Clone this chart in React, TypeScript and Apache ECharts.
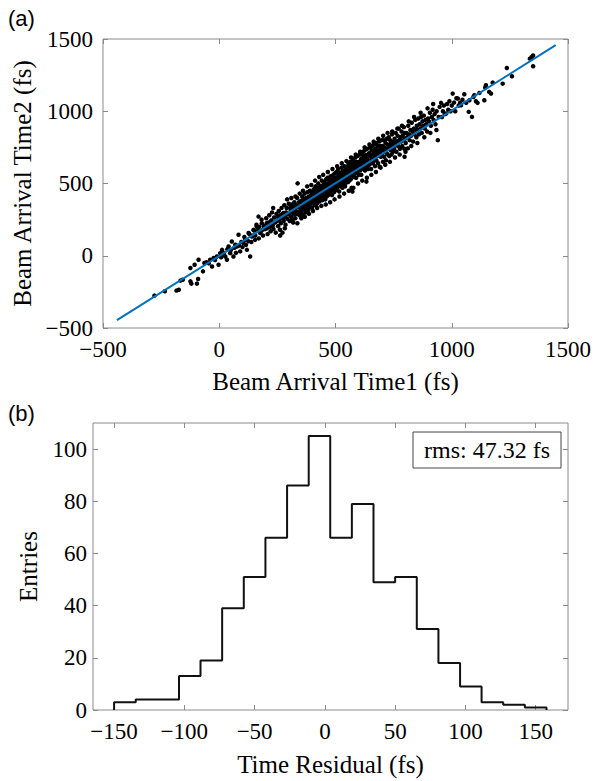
import React, { useEffect, useRef } from "react";
import * as echarts from "echarts";

// Panel (a): scatter of beam arrival times (fs)
const scatterPoints: [number, number][] = [
  [-279, -276], [-234, -246], [-184, -241], [-174, -235], [-167, -172], [-157, -166],
  [-124, -177], [-120, -193], [-96, -193], [-91, -161], [-124, -85], [-106, -62],
  [-89, -28], [-70, -108], [-64, -50], [-39, -28], [-31, -74], [-24, -16], [-10, -5],
  [-3, -62], [4, 18], [12, 41], [26, -5], [33, -28], [40, 64], [47, 18], [61, -5],
  [54, 99], [69, 76], [83, 145], [76, 64], [90, 30], [104, 88], [111, 110], [119, 41],
  [133, -5], [126, 157], [140, 133], [147, 179], [154, 110], [161, 202], [169, 271],
  [183, 225], [176, 157], [186, 179], [204, 225],
  [-55, -45], [-45, -52], [-18, -30], [8, -10], [15, 25], [20, 10], [35, 45], [50, 40],
  [65, 55], [72, 20], [85, 70], [95, 95], [100, 60], [108, 130], [115, 75], [125, 100],
  [130, 150], [138, 95], [145, 140], [150, 175],
  [155, 140], [160, 215], [165, 180], [170, 120], [172, 200], [178, 165], [182, 250],
  [188, 140], [192, 205], [197, 185],
  [202, 260], [205, 190], [208, 150], [212, 230], [215, 280], [218, 200], [221, 170],
  [224, 245], [227, 300], [230, 210], [233, 185], [236, 265], [240, 230], [243, 160],
  [246, 290], [249, 240],
  [251, 270], [253, 205], [256, 310], [258, 250], [261, 180], [263, 280], [265, 225],
  [268, 330], [270, 260], [272, 160], [275, 295], [277, 240], [280, 350], [282, 270],
  [285, 215], [287, 300], [290, 330], [293, 255], [296, 285], [299, 360],
  [301, 290], [303, 240], [305, 330], [307, 310], [309, 270], [311, 355], [313, 300],
  [315, 250], [317, 340], [319, 320], [321, 285], [323, 370], [325, 330], [327, 260],
  [329, 310], [331, 350], [333, 290], [335, 400], [337, 501], [339, 335], [341, 300],
  [343, 370], [345, 280], [347, 345], [349, 315],
  [351, 380], [352, 330], [354, 300], [356, 360], [357, 410], [359, 340], [361, 280],
  [362, 390], [364, 355], [366, 320], [367, 430], [369, 370], [371, 345], [372, 300],
  [374, 400], [376, 365], [377, 330], [379, 440], [381, 385], [382, 350], [383, 317],
  [385, 410], [387, 375], [388, 340], [390, 450], [392, 395], [393, 360], [395, 420],
  [397, 380], [399, 330],
  [401, 400], [402, 440], [404, 370], [405, 420], [407, 460], [408, 390], [410, 350],
  [411, 430], [413, 405], [414, 480], [416, 380], [417, 445], [419, 410], [420, 360],
  [422, 470], [423, 425], [425, 395], [426, 500], [428, 440], [429, 410], [431, 375],
  [432, 455], [434, 425], [435, 480], [437, 400], [438, 445], [440, 420], [441, 520],
  [443, 465], [444, 385], [446, 440], [447, 490], [448, 415], [449, 460], [450, 400],
  [451, 470], [452, 430], [453, 510], [455, 450], [456, 390], [457, 480], [459, 440],
  [460, 530], [461, 465], [462, 410], [464, 495], [465, 455], [466, 540], [468, 475],
  [469, 420], [470, 500], [471, 460], [473, 520], [474, 480], [475, 430], [476, 505],
  [478, 470], [479, 550], [480, 495], [481, 445], [483, 515], [484, 475], [485, 420],
  [486, 535], [488, 490], [489, 460], [490, 560], [491, 510], [493, 480], [494, 440],
  [495, 525], [496, 495], [497, 570], [498, 465], [499, 515],
  [500, 490], [501, 540], [503, 455], [504, 520], [505, 580], [506, 500], [508, 470],
  [509, 545], [510, 515], [511, 600], [513, 490], [514, 560], [515, 525], [516, 445],
  [518, 550], [519, 505], [520, 575], [521, 530], [523, 480], [524, 565], [525, 540],
  [526, 610], [528, 510], [529, 555], [530, 470], [531, 590], [533, 530], [534, 495],
  [535, 570], [536, 545], [538, 620], [539, 515], [540, 560], [541, 480], [543, 585],
  [544, 540], [545, 505], [546, 600], [548, 560], [549, 530],
  [550, 590], [551, 545], [553, 620], [554, 510], [555, 575], [556, 640], [558, 555],
  [559, 600], [560, 520], [561, 580], [563, 650], [564, 560], [565, 610], [566, 530],
  [568, 590], [569, 470], [570, 630], [571, 575], [573, 444], [574, 600], [575, 555],
  [576, 660], [578, 620], [579, 580], [580, 545], [581, 640], [583, 605], [584, 570],
  [585, 680], [586, 620], [588, 590], [589, 540], [590, 650], [591, 615], [593, 580],
  [594, 690], [596, 630], [598, 600],
  [600, 560], [601, 650], [603, 620], [604, 700], [605, 590], [607, 640], [608, 610],
  [610, 670], [611, 560], [613, 630], [614, 700], [616, 655], [617, 600], [619, 720],
  [620, 640], [621, 680], [623, 610], [624, 660], [626, 730], [627, 590], [629, 650],
  [630, 695], [632, 620], [633, 513], [634, 670], [636, 740], [637, 640], [639, 700],
  [640, 600], [642, 660], [644, 710], [645, 630], [647, 690], [649, 750],
  [650, 640], [652, 700], [653, 600], [655, 730], [656, 670], [658, 760], [660, 640],
  [661, 700], [663, 650], [665, 720], [666, 770], [668, 680], [670, 620], [671, 740],
  [673, 700], [675, 780], [676, 660], [678, 720], [680, 690], [681, 760], [683, 640],
  [685, 730], [686, 700], [688, 790], [690, 616], [691, 720], [693, 760], [695, 685],
  [697, 740], [699, 800],
  [700, 700], [702, 760], [704, 650], [706, 730], [708, 800], [710, 685], [711, 750],
  [713, 720], [715, 780], [717, 660], [719, 740], [721, 810], [723, 705], [725, 770],
  [727, 740], [729, 820], [731, 690], [733, 760], [735, 800], [737, 730], [739, 780],
  [741, 700], [743, 840], [745, 760], [747, 720], [749, 790],
  [752, 740], [754, 810], [757, 770], [759, 850], [762, 720], [764, 790], [767, 830],
  [769, 760], [772, 880], [774, 800], [777, 740], [779, 820], [782, 790], [784, 860],
  [787, 760], [789, 830], [792, 800], [794, 890], [796, 740], [797, 685], [798, 850],
  [799, 810],
  [802, 780], [805, 850], [808, 820], [811, 743], [813, 900], [816, 840], [819, 800],
  [822, 870], [825, 830], [828, 920], [831, 860], [834, 790], [837, 880], [840, 840],
  [843, 940], [846, 870], [848, 820], [850, 900],
  [853, 870], [856, 950], [859, 840], [862, 910], [865, 880], [868, 960], [871, 850],
  [874, 930], [877, 900], [880, 970], [884, 880], [887, 940], [890, 910], [894, 860],
  [898, 950],
  [902, 930], [906, 990], [910, 900], [914, 960], [918, 1010], [922, 940], [926, 980],
  [930, 910], [935, 1000], [940, 800], [944, 960], [948, 1030],
  [954, 1058], [958, 960], [962, 1000], [966, 1040], [970, 980], [976, 984], [980, 1050],
  [985, 1010], [990, 1070], [995, 1000], [1000, 1040], [1004, 1122], [1010, 1060],
  [1015, 1000], [1020, 1090], [1026, 1088], [1030, 1040], [1036, 1060], [1040, 1042],
  [1046, 1080],
  [1054, 1118], [1062, 1058], [1073, 996], [1076, 1076], [1087, 961], [1093, 1099],
  [1097, 1111], [1104, 1069], [1111, 1058], [1119, 1127], [1140, 1076], [1144, 1164],
  [1147, 1180], [1161, 1134], [1169, 1122], [1176, 1198], [1219, 1191], [1237, 1299],
  [1259, 1242], [1336, 1364], [1344, 1375], [1350, 1386], [1350, 1311],
  // wider-spread points along the band
  [310, 400], [318, 230], [328, 410], [336, 225], [346, 430], [353, 260], [360, 450],
  [368, 270], [378, 480], [386, 290], [396, 490], [403, 310], [412, 520], [421, 330],
  [430, 545], [439, 345], [447, 560], [458, 355], [467, 580], [477, 370], [487, 600],
  [496, 390], [507, 620], [517, 410], [527, 640], [537, 430], [547, 655], [557, 450],
  [567, 680], [577, 470], [587, 700], [597, 500], [606, 720], [615, 520], [625, 750],
  [635, 540], [646, 770], [654, 560], [664, 790], [674, 580], [684, 810], [694, 610],
  [705, 830], [714, 630], [724, 850], [734, 650], [744, 860], [756, 680], [766, 880],
  [776, 700], [786, 900], [801, 720], [815, 930], [826, 760], [838, 960], [852, 780],
  [866, 990], [882, 820], [896, 1020], [908, 850], [920, 1050], [934, 870],
  [232, 330], [262, 140], [292, 390], [282, 190],
];

// Linear fit line endpoints
const fitX = [-440, 1447];
const fitY = [-445, 1457];

// Axis ticks, panel (a)
const aTicks = [-500, 0, 500, 1000, 1500];

// Panel (b): histogram of time residual (fs)
const binEdges = [
  -150, -134.6, -119.2, -103.8, -88.5, -73.1, -57.7, -42.3, -26.9, -11.5, 3.8,
  19.2, 34.6, 50.0, 65.4, 80.8, 96.2, 111.5, 126.9, 142.3, 157.7,
];
const binCounts = [3, 4, 4, 13, 19, 39, 51, 66, 86, 105, 66, 79, 49, 51, 31, 18, 9, 3, 2, 1];
const bXTicks = [-150, -100, -50, 0, 50, 100, 150];
const bYTicks = [0, 20, 40, 60, 80, 100];
const rmsText = "rms: 47.32 fs";

const FONT = "'Liberation Serif', 'Times New Roman', serif";
const AXIS_GRAY = "#8a8a8a";

export default function App() {
  const ref = useRef<HTMLDivElement>(null);

  useEffect(() => {
    if (!ref.current) return;
    const chart = echarts.init(ref.current, undefined, { renderer: "svg" });

    const stepData: [number, number][] = [[binEdges[0], 0]];
    binCounts.forEach((c, i) => {
      stepData.push([binEdges[i], c]);
      stepData.push([binEdges[i + 1], c]);
    });
    stepData.push([binEdges[binEdges.length - 1], 0]);

    const noLine = { show: false, onZero: false };
    const tickStyle = { show: true, inside: true, length: 5, lineStyle: { color: AXIS_GRAY, width: 1 } };
    const labelStyle = { color: "#000", fontFamily: FONT, fontSize: 23 };
    const nameStyle = { color: "#000", fontFamily: FONT, fontSize: 25 };
    const minusFmt = (v: number) => (v < 0 ? "\u2212" + Math.abs(v) : String(v));

    const option: any = {
      animation: false,
      backgroundColor: "#fff",
      grid: [
        { left: 103, top: 39, width: 465, height: 289, show: true, borderColor: AXIS_GRAY, borderWidth: 1, backgroundColor: "#fff" },
        { left: 93, top: 423, width: 475, height: 287, show: true, borderColor: AXIS_GRAY, borderWidth: 1, backgroundColor: "#fff" },
      ],
      xAxis: [
        {
          type: "value", gridIndex: 0, position: "bottom", min: -500, max: 1500, interval: 500,
          axisLine: noLine, splitLine: { show: false }, axisTick: tickStyle,
          axisLabel: { ...labelStyle, margin: 10, customValues: aTicks, formatter: minusFmt },
          name: "Beam Arrival Time1 (fs)", nameLocation: "middle", nameGap: 41, nameTextStyle: nameStyle,
        },
        {
          type: "value", gridIndex: 0, position: "top", min: -500, max: 1500, interval: 500,
          axisLine: noLine, splitLine: { show: false }, axisTick: tickStyle, axisLabel: { show: false },
        },
        {
          type: "value", gridIndex: 1, position: "bottom", min: -165, max: 173,
          axisLine: noLine, splitLine: { show: false },
          axisTick: { ...tickStyle, customValues: bXTicks },
          axisLabel: { ...labelStyle, margin: 10, customValues: bXTicks, formatter: minusFmt },
          name: "Time Residual (fs)", nameLocation: "middle", nameGap: 42, nameTextStyle: nameStyle,
        },
        {
          type: "value", gridIndex: 1, position: "top", min: -165, max: 173,
          axisLine: noLine, splitLine: { show: false },
          axisTick: { ...tickStyle, customValues: bXTicks }, axisLabel: { show: false },
        },
      ],
      yAxis: [
        {
          type: "value", gridIndex: 0, position: "left", min: -500, max: 1500, interval: 500,
          axisLine: noLine, splitLine: { show: false }, axisTick: tickStyle,
          axisLabel: { ...labelStyle, margin: 10, customValues: aTicks, formatter: minusFmt },
          name: "Beam Arrival Time2 (fs)", nameLocation: "middle", nameGap: 68, nameTextStyle: nameStyle,
        },
        {
          type: "value", gridIndex: 0, position: "right", min: -500, max: 1500, interval: 500,
          axisLine: noLine, splitLine: { show: false }, axisTick: tickStyle, axisLabel: { show: false },
        },
        {
          type: "value", gridIndex: 1, position: "left", min: 0, max: 110,
          axisLine: noLine, splitLine: { show: false },
          axisTick: { ...tickStyle, customValues: bYTicks },
          axisLabel: { ...labelStyle, margin: 6, customValues: bYTicks },
          name: "Entries", nameLocation: "middle", nameGap: 52, nameTextStyle: nameStyle,
        },
        {
          type: "value", gridIndex: 1, position: "right", min: 0, max: 110,
          axisLine: noLine, splitLine: { show: false },
          axisTick: { ...tickStyle, customValues: bYTicks }, axisLabel: { show: false },
        },
      ],
      series: [
        {
          type: "line", xAxisIndex: 0, yAxisIndex: 0, symbol: "none",
          data: fitX.map((x, i) => [x, fitY[i]]),
          lineStyle: { color: "#0072BD", width: 2 },
        },
        {
          type: "scatter", xAxisIndex: 0, yAxisIndex: 0, symbolSize: 4.5,
          data: scatterPoints, itemStyle: { color: "#000", opacity: 1 },
        },
        {
          type: "line", xAxisIndex: 2, yAxisIndex: 2, symbol: "none",
          data: stepData, lineStyle: { color: "#111", width: 2 },
        },
      ],
      graphic: [
        { type: "text", left: 8, top: 7, style: { text: "(a)", fontFamily: "'Liberation Sans', Arial, sans-serif", fontSize: 22, fill: "#000" } },
        { type: "text", left: 8, top: 402, style: { text: "(b)", fontFamily: "'Liberation Sans', Arial, sans-serif", fontSize: 22, fill: "#000" } },
        {
          type: "rect", shape: { x: 413, y: 432, width: 148, height: 36 },
          style: { fill: "#fff", stroke: "#444", lineWidth: 1 }, z: 10,
        },
        {
          type: "text", x: 487, y: 450, z: 11,
          style: { text: rmsText, fontFamily: FONT, fontSize: 24, fill: "#000", align: "center", verticalAlign: "middle" },
        },
      ],
    };

    chart.setOption(option);
    return () => chart.dispose();
  }, []);

  return <div ref={ref} style={{ position: "absolute", left: 0, top: 0, width: 596, height: 781 }} />;
}
